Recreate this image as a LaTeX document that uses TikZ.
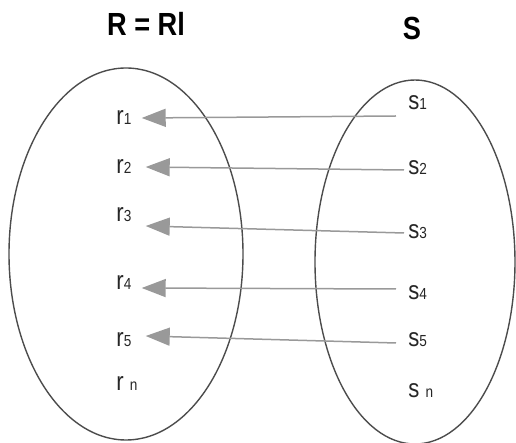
\documentclass[tikz,border=0pt]{standalone}
\usepackage{fontspec}
\setmainfont{Liberation Sans}
\newfontfamily\lblfont[FakeStretch=0.85]{Liberation Sans}
\usetikzlibrary{arrows.meta,shapes.geometric,calc}

\newcommand\elemidx[1]{{\fontsize{8}{8}\selectfont #1}}

\begin{document}
\begin{tikzpicture}[x=0.5pt,y=-0.5pt,
        set/.style = {draw=black!70, line width=0.7pt, ellipse, inner sep=0pt},
        title/.style = {font=\lblfont\bfseries\fontsize{16}{16}\selectfont},
        elem/.style = {anchor=west, inner sep=2pt, text=black!85,
            font=\lblfont\fontsize{13}{13}\selectfont},
        line/.style = {draw=black!40, line width=0.75pt,
            -{Triangle[length=12pt,width=9pt]}}]
    \useasboundingbox (0,0) rectangle (516,443);
    \node[title] (titleR) at (146,24) {R = Rl};
    \node[title] (titleS) at (412,28) {S};
    \node[set, minimum width=117pt, minimum height=186pt] (setR) at (126,254) {};
    \node[set, minimum width=100pt, minimum height=182pt] (setS) at (415,262) {};
    \foreach \i/\y in {1/118, 2/167, 3/215, 4/283, 5/340}
        \node[elem] (r\i) at (112,\y) {r\elemidx{\i}};
    \node[elem] (rn) at (112,384) {r \elemidx{n}};
    \foreach \i/\y in {1/103, 2/168, 3/232, 4/293, 5/340}
        \node[elem] (s\i) at (404,\y) {s\elemidx{\i}};
    \node[elem] (sn) at (404,391) {s \elemidx{n}};
    \foreach \i/\a/\b/\c/\d in {1/-8/13/6/0, 2/0/2/10/0, 3/0/1/10/11,
            4/-8/-4/6/5, 5/-8/3/10/-4}
        \path[line] ($(s\i.west)+(\a,\b)$) -- ($(r\i.east)+(\c,\d)$);
\end{tikzpicture}
\end{document}
